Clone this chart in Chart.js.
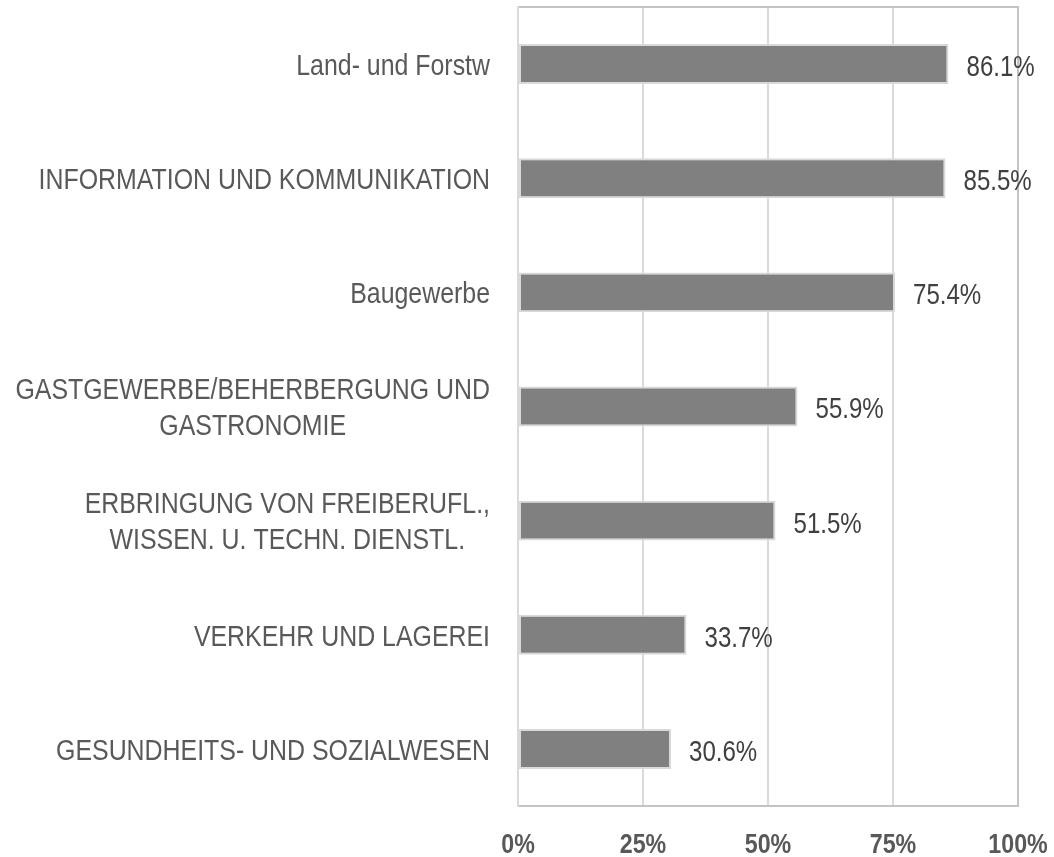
<!DOCTYPE html>
<html>
<head>
<meta charset="utf-8">
<script src="https://cdn.jsdelivr.net/npm/chart.js@4/dist/chart.umd.min.js"></script>
<style>
  body { margin: 0; background: #fff; }
</style>
</head>
<body>
<canvas id="chart" width="1054" height="857"></canvas>
<script>
const categories = [
	['Land- und Forstw'],
	['INFORMATION UND KOMMUNIKATION'],
	['Baugewerbe'],
	['GASTGEWERBE/BEHERBERGUNG UND', 'GASTRONOMIE'],
	['ERBRINGUNG VON FREIBERUFL.,', 'WISSEN. U. TECHN. DIENSTL.'],
	['VERKEHR UND LAGEREI'],
	['GESUNDHEITS- UND SOZIALWESEN']
];
const shares = [86.1, 85.5, 75.4, 55.9, 51.5, 33.7, 30.6];
const xTicks = [0, 25, 50, 75, 100];

const fontFamily = '"Liberation Sans", Arial, sans-serif';
const narrow = 0.83;   // squeeze text horizontally, the original uses a narrow face

// draw text squeezed horizontally, y is the visual centre of the capitals
function narrowText(ctx, text, x, y, size, weight, color, align) {
	ctx.save();
	ctx.font = weight + ' ' + size + 'px ' + fontFamily;
	ctx.fillStyle = color;
	ctx.textBaseline = 'alphabetic';
	ctx.textAlign = align;
	ctx.translate(x, y + size * 0.358);
	ctx.scale(narrow, 1);
	ctx.fillText(text, 0, 0);
	ctx.restore();
}

function narrowWidth(ctx, text, size, weight) {
	ctx.save();
	ctx.font = weight + ' ' + size + 'px ' + fontFamily;
	let w = ctx.measureText(text).width * narrow;
	ctx.restore();
	return w;
}

// value labels right of each bar
const valueLabels = {
	id: 'valueLabels',
	afterDatasetsDraw(chart) {
		let ctx = chart.ctx;
		let meta = chart.getDatasetMeta(0);
		meta.data.forEach(function (bar, i) {
			narrowText(ctx, shares[i].toFixed(1) + '%', bar.x + 18, bar.y + 1.5, 29, 'normal', '#404040', 'left');
		});
	}
};

// axis texts: categories (lines centred inside a right aligned block) and x ticks
const axisLabels = {
	id: 'axisLabels',
	afterDraw(chart) {
		let ctx = chart.ctx;
		let yScale = chart.scales.y;
		let xScale = chart.scales.x;
		let right = 490;
		let lineH = 36;
		categories.forEach(function (lines, i) {
			let cy = yScale.getPixelForValue(i);
			let w = Math.max.apply(null, lines.map(l => narrowWidth(ctx, l, 30, 'normal')));
			let cx = right - w / 2;
			let y0 = cy - (lines.length - 1) * lineH / 2;
			lines.forEach(function (l, k) {
				narrowText(ctx, l, cx, y0 + k * lineH, 30, 'normal', '#595959', 'center');
			});
		});
		xTicks.forEach(function (v) {
			narrowText(ctx, v + '%', xScale.getPixelForValue(v), xScale.bottom - 14, 28, 'bold', '#595959', 'center');
		});
	}
};

let ctx = document.getElementById('chart').getContext('2d');
new Chart(ctx, {
	type: 'bar',
	data: {
		labels: categories,
		datasets: [{
			data: shares,
			backgroundColor: '#808080',
			borderColor: '#d9d9d9',
			borderWidth: 2,
			borderSkipped: false,
			barPercentage: 0.35,
			categoryPercentage: 1
		}]
	},
	options: {
		indexAxis: 'y',
		responsive: false,
		animation: false,
		devicePixelRatio: 1,
		layout: { padding: { top: 0, right: 36, left: 0, bottom: 0 } },
		plugins: {
			legend: { display: false },
			tooltip: { enabled: false }
		},
		scales: {
			x: {
				min: 0,
				max: 100,
				afterBuildTicks(scale) {
					scale.ticks = xTicks.map(v => ({ value: v }));
				},
				afterFit(scale) {
					scale.height = 51;
					scale.paddingLeft = 0;
					scale.paddingRight = 0;
				},
				grid: {
					color: c => (c.tick && c.tick.value === 100) ? '#c4c4c4' : '#dadada',
					lineWidth: 2,
					drawTicks: false
				},
				border: { display: true, color: '#c4c4c4', width: 2 },
				ticks: { display: false }
			},
			x2: {
				position: 'top',
				min: 0,
				max: 100,
				afterFit(scale) {
					scale.height = 7;
					scale.paddingLeft = 0;
					scale.paddingRight = 0;
				},
				grid: { display: false },
				border: { display: true, color: '#c4c4c4', width: 2 },
				ticks: { display: false }
			},
			y: {
				afterFit(scale) { scale.width = 518; },
				grid: { display: false },
				border: { display: true, color: '#dadada', width: 2 },
				ticks: { display: false }
			}
		}
	},
	plugins: [valueLabels, axisLabels]
});
</script>
</body>
</html>
